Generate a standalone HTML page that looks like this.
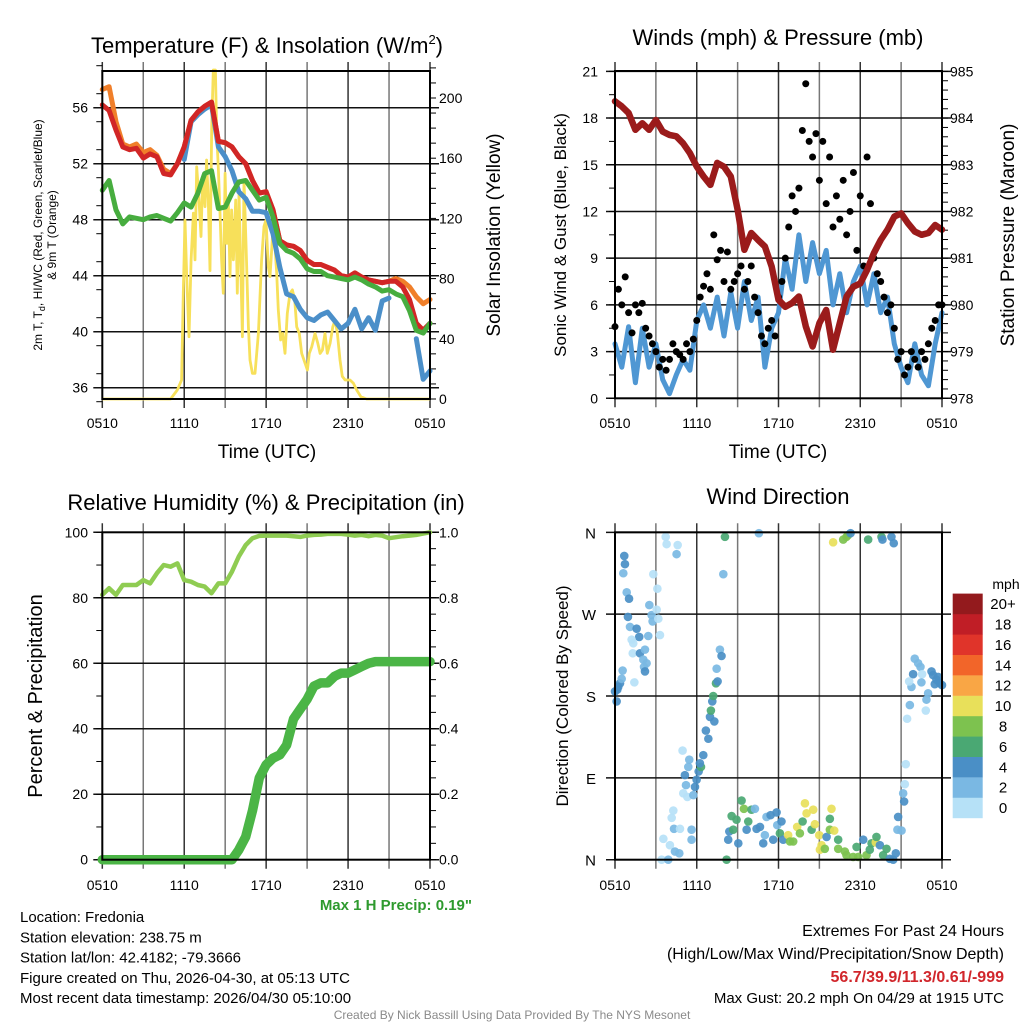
<!DOCTYPE html>
<html><head><meta charset="utf-8"><style>
html,body{margin:0;padding:0;background:#fff;}
svg{display:block;font-family:"Liberation Sans",Arial,sans-serif;}
</style></head><body>
<svg id="chart" width="1024" height="1024" viewBox="0 0 1024 1024"></svg>
<script>
// ---------- DATA ----------
const hours = [0,0.5,1,1.5,2,2.5,3,3.5,4,4.5,5,5.5,6,6.5,7,7.5,8,8.5,9,9.5,10,10.5,11,11.5,12,12.5,13,13.5,14,14.5,15,15.5,16,16.5,17,17.5,18,18.5,19,19.5,20,20.5,21,21.5,22,22.5,23,23.5,24];
const xTickLabels = ["0510","1110","1710","2310","0510"];
const tempRed = [56.2,55.8,54.4,53.2,53.0,53.1,52.4,52.7,52.5,51.3,51.2,52.0,53.2,55.1,55.7,56.1,56.4,53.6,53.5,53.2,52.5,52.0,50.8,49.9,50.0,48.7,46.5,46.2,46.1,45.8,45.1,44.8,44.8,44.6,44.4,44.0,43.9,44.2,43.9,43.7,43.6,43.5,43.6,43.6,43.2,42.3,40.6,40.1,40.6];
const tempOrange = [57.3,57.5,55.0,53.4,53.2,53.4,52.8,53.0,52.6,51.6,51.3,52.0,53.2,55.1,55.7,56.1,56.4,53.6,53.5,53.2,52.5,52.0,50.8,49.9,50.0,48.7,46.5,46.2,46.1,45.8,45.1,44.8,44.8,44.6,44.4,44.0,43.9,44.2,43.9,43.7,43.6,43.5,43.6,43.8,43.6,43.2,42.5,42.0,42.3];
const dewGreen = [50.1,50.8,48.7,47.7,48.2,48.1,48.0,48.2,48.3,48.1,47.9,48.5,49.2,48.9,49.9,51.3,51.5,48.8,48.9,49.9,50.7,50.8,50.1,49.4,49.6,48.2,46.3,45.8,45.6,45.2,44.5,44.3,44.3,44.0,43.9,43.8,43.7,43.9,43.7,43.4,43.2,42.9,43.0,42.7,42.5,41.5,40.1,39.9,40.6];
const chillBlue = [null,null,null,null,null,null,null,null,null,null,null,null,52.3,55.0,55.5,55.9,56.2,53.2,52.5,51.5,50.0,49.5,48.6,48.6,48.5,47.0,44.6,42.7,42.5,41.6,41.0,40.8,41.2,41.4,40.8,40.2,40.6,41.6,40.2,41.0,40.1,42.2,42.4,null,null,null,39.5,36.6,37.2];
const tempTicks = [36,40,44,48,52,56];
const solarTicks = [0,40,80,120,160,200];
const solarHours = [0,5.0,5.49,5.81,5.93,6.06,6.18,6.35,6.50,6.67,6.79,6.91,7.08,7.23,7.35,7.52,7.64,7.76,7.89,8.01,8.13,8.28,8.38,8.50,8.62,8.74,8.86,8.99,9.11,9.23,9.35,9.47,9.60,9.77,9.89,10.01,10.13,10.26,10.38,10.53,10.70,10.82,10.99,11.18,11.43,11.67,11.84,11.99,12.16,12.28,12.48,12.65,12.77,12.89,13.06,13.21,13.38,13.55,13.75,13.92,14.09,14.24,14.43,14.60,14.85,15.02,15.16,15.34,15.58,15.78,15.95,16.12,16.31,16.48,16.68,16.88,17.05,17.22,17.41,17.58,17.78,18.14,18.39,18.63,18.93,19.36,24];
const solarValues = [0,0,6,12.6,70.7,119,81.5,41.4,92.5,123.5,92.5,154.3,132.2,108,147.8,127.8,158.8,132.2,85.3,181,218.6,218.6,176.5,152.2,123.5,92.5,70.3,150,103.4,132.2,81.3,125.6,92.5,132.2,70.3,136.6,92.5,41.4,145.5,101.2,48,25.9,17,17,43.6,92.5,114.7,119,88,81.3,110,101.2,83.5,59.2,39.2,43.6,30.3,56.9,70.3,72.5,65.9,48,43.6,30.3,23.7,19.3,30.3,34.8,43.6,37,30.3,32.5,43.6,30.3,37,48,52.4,43.6,26,15,12.6,12.6,10.4,6,1.5,0,0];

const windSpeed = [3.5,2.0,4.6,1.0,4.5,2.0,3.5,1.2,0.3,1.5,2.5,1.8,5.0,6.0,4.5,6.5,4.0,6.8,4.5,7.5,5.0,6.5,2.0,4.5,5.5,9.0,7.0,10.5,7.5,10.0,8.0,9.5,6.0,8.0,5.5,7.5,8.5,6.0,8.0,5.5,6.5,3.5,2.0,1.0,3.5,1.5,0.8,3.5,5.5];
const pressure = [984.36,984.25,984.11,983.75,983.89,983.75,983.96,983.71,983.64,983.61,983.46,983.25,982.96,982.75,982.57,983.04,982.96,982.75,982.04,981.18,981.54,981.39,981.25,980.82,980.11,979.96,980.04,980.18,979.54,979.11,979.61,979.89,979.04,979.61,980.18,980.39,980.46,980.75,981.11,981.39,981.61,981.89,981.96,981.75,981.57,981.5,981.54,981.71,981.61];
const gustHours = [0,0.25,0.5,0.75,1,1.25,1.5,1.75,2,2.25,2.5,2.75,3,3.25,3.5,3.75,4,4.25,4.5,4.75,5,5.25,5.5,5.75,6,6.25,6.5,6.75,7,7.25,7.5,7.75,8,8.25,8.5,8.75,9,9.25,9.5,9.75,10,10.25,10.5,10.75,11,11.25,11.5,11.75,12,12.25,12.5,12.75,13,13.25,13.5,13.75,14,14.25,14.5,14.75,15,15.25,15.5,15.75,16,16.25,16.5,16.75,17,17.25,17.5,17.75,18,18.25,18.5,18.75,19,19.25,19.5,19.75,20,20.25,20.5,20.75,21,21.25,21.5,21.75,22,22.25,22.5,22.75,23,23.25,23.5,23.75,24];
const gustValues = [4.6,7.0,6.0,7.8,5.5,4.2,6.0,5.5,6.1,4.5,4.0,3.5,3.0,2.0,2.5,1.8,2.5,3.5,3.0,2.8,2.5,3.5,3.0,3.8,5.0,6.5,7.2,8.0,7.0,10.5,8.9,9.5,7.5,9.4,7.0,7.5,8.0,8.5,7.0,7.5,8.5,6.5,5.5,4.0,3.5,4.5,5.0,4.0,6.5,7.5,9.0,11.0,13.0,12.0,13.5,17.2,20.2,16.5,15.5,17.0,14.0,16.5,12.5,15.5,11.0,13.0,11.5,14.0,10.5,12.0,14.5,9.5,13.0,8.5,15.5,12.5,9.0,8.0,7.5,6.5,5.5,6.0,4.5,2.5,3.0,1.5,2.0,3.0,2.5,2.0,3.0,2.5,3.5,4.5,5.0,6.0,6.0];
const windTicks = [0,3,6,9,12,15,18,21];
const presTicks = [978,979,980,981,982,983,984,985];

const rhValues = [80.9,82.9,80.9,83.9,83.9,83.9,85.4,84.4,87.5,90.0,89.5,90.5,85.4,84.9,83.9,83.4,81.4,84.4,84.4,88.0,92.6,96.1,98.2,98.9,99.0,99.0,99.0,99.0,98.8,98.6,99.0,99.2,99.3,99.5,99.5,99.5,99.3,99.0,99.2,98.8,99.2,99.0,98.2,98.5,98.8,99.0,99.2,99.6,100];
const precipValues = [0,0,0,0,0,0,0,0,0,0,0,0,0,0,0,0,0,0,0,0,0.03,0.07,0.15,0.25,0.29,0.31,0.32,0.35,0.43,0.46,0.49,0.53,0.54,0.54,0.56,0.57,0.57,0.58,0.59,0.60,0.605,0.605,0.605,0.605,0.605,0.605,0.605,0.605,0.605];
const rhTicks = [0,20,40,60,80,100];
const precipTicks = ["0.0","0.2","0.4","0.6","0.8","1.0"];

const dirHours = [0.0,0.12,0.24,0.37,0.49,0.56,0.17,0.68,0.73,0.61,0.86,1.03,0.95,1.10,1.59,1.78,1.22,1.34,2.44,1.30,1.83,2.20,2.08,2.32,2.13,2.20,1.42,2.52,2.69,2.76,3.06,3.18,3.30,2.81,3.11,3.72,3.79,4.60,4.52,4.96,5.45,5.38,5.13,5.21,5.01,5.31,5.75,5.87,5.99,6.14,6.31,6.48,6.23,6.67,6.85,6.97,7.29,7.04,7.14,7.21,7.41,7.53,7.46,7.70,7.82,7.95,8.07,4.28,4.16,4.33,4.77,5.62,5.62,3.55,3.42,3.91,4.03,4.40,4.72,8.19,8.56,8.39,8.31,9.05,8.68,8.92,9.29,9.46,9.66,9.78,10.02,10.27,10.39,10.64,10.88,11.0,11.12,11.42,11.61,11.86,11.91,12.22,12.10,12.35,12.71,12.84,13.08,13.37,13.57,13.77,13.94,14.06,14.43,14.55,14.67,14.99,15.16,15.04,15.40,15.53,15.77,15.89,15.77,16.09,16.38,16.38,16.87,16.99,17.48,17.73,17.85,18.22,18.46,18.70,18.83,19.14,19.19,19.44,19.68,19.93,20.17,20.42,20.61,10.56,16.01,16.75,16.99,17.11,17.29,18.58,19.56,19.63,20.29,20.46,21.34,21.27,21.15,21.22,20.78,20.73,21.03,21.44,21.64,21.76,21.88,22.0,22.25,22.42,22.54,22.49,21.59,22.98,22.86,22.81,23.23,23.35,23.47,23.59,23.72,23.84,24.0];
const dirDegrees = [185,174,190,194,199,208,187,334,325,315,294,287,267,256,254,245,242,238,246,227,227,231,220,216,212,207,195,280,269,262,275,265,247,314,298,355,347,346,336,120,110,102,93,82,73,69,71,80,88,97,102,115,106,142,133,157,152,164,174,180,194,196,210,231,224,314,355,54,46,34,34,33,22,23,0,0,16,9,7,0,48,31,22,18,33,44,65,56,33,42,55,56,34,36,18,27,47,49,22,52,38,42,29,22,27,20,20,36,29,42,62,51,33,55,39,27,16,11,12,25,33,56,45,32,22,12,9,5,3,14,3,22,5,11,18,19,25,16,5,12,1,0,7,359,349,352,355,357,359,352,355,352,355,348,105,83,73,64,47,33,32,155,170,190,204,221,216,212,204,195,196,183,176,164,207,203,193,198,201,194,192];
const dirSpeeds = [5,5,5,5,3,3,5,5,5,3,3,5,5,3,5,5,1,1,3,1,5,3,3,3,3,5,1,3,3,3,1,1,1,1,1,1,1,1,3,1,3,3,5,3,1,1,3,5,5,5,7,5,5,5,5,5,5,7,5,7,7,5,3,3,5,3,7,1,1,3,1,3,3,1,1,3,1,3,3,7,7,5,5,5,7,7,7,9,5,7,7,3,5,5,5,3,3,5,5,5,3,5,7,5,11,9,9,11,9,7,11,11,7,11,11,11,11,11,9,5,9,11,7,11,7,9,9,9,9,7,9,5,9,7,7,11,7,5,7,7,5,5,5,3,11,9,9,9,5,7,7,5,5,5,1,1,3,5,5,3,3,1,3,3,5,3,3,3,1,3,1,3,3,1,5,5,5,5,5,5,5];
const dirTickLabels = ["N","E","S","W","N"];
const legendLabels = ["0","2","4","6","8","10","12","14","16","18","20+"];
const legendColors = ["#b6e1f7","#7ab8e3","#4a8fc6","#4aa873","#7dc24f","#e8e05a","#f9a645","#f26529","#e0342a","#c01e26","#931a1d"];

// ---------- HELPERS ----------
const svg = document.getElementById('chart');
const NS = 'http://www.w3.org/2000/svg';
function mk(tag, attrs, parent){ const e=document.createElementNS(NS,tag); for(const k in attrs) e.setAttribute(k,attrs[k]); (parent||svg).appendChild(e); return e; }
function txt(s, x, y, size, anchor, parent, extra){ const t=mk('text',Object.assign({x:x,y:y,'font-size':size,'text-anchor':anchor||'middle',fill:'#000'},extra||{}),parent); t.textContent=s; return t; }

function panel(name, x0, x1, y0, y1){
  const g = mk('g',{});
  
  
  const xs = h => x0 + (x1-x0)*h/24;
  for(let i=0;i<=8;i++){
    const x = xs(i*3);
    const l = mk('line',{x1:x,x2:x,y1:y0-9,y2:y1+9,stroke:(i%2? '#777':'#333'),'stroke-width':1.5},g);
    
    
  }
  return {g, xs};
}
function hgrid(g, x0, x1, y){ const l=mk('line',{x1:x0-9,x2:x1+9,y1:y,y2:y,stroke:'#111','stroke-width':1.5},g);   }
function frame(g,x0,x1,y0,y1){ const r=mk('rect',{x:x0,y:y0,width:x1-x0,height:y1-y0,fill:'none',stroke:'#000','stroke-width':2},g);   }
function path(pts){ let d='',pen=false; pts.forEach(p=>{ if(p[1]==null||isNaN(p[1])){pen=false;return;} d+=(pen?'L':'M')+p[0].toFixed(1)+' '+p[1].toFixed(1)+' '; pen=true;}); return d; }
function xLabels(g, xs, y){ xTickLabels.forEach((s,i)=>{ const t=txt(s, xs(i*6), y, 14, 'middle', g);   }); }
function minorTicks(g, x, yA, yB, n, dir){ for(let i=0;i<=n;i++){ const y=yA+(yB-yA)*i/n; const l=mk('line',{x1:x,x2:x+dir*6,y1:y,y2:y,stroke:'#000','stroke-width':1},g);   } }

// ---------- PANEL 1 ----------
(function(){
  const x0=102.3,x1=430,y0=71,y1=399;
  const P = panel('temperature-panel',x0,x1,y0,y1), g=P.g, xs=P.xs;
  const yT = t => 387.7 - (t-36)*14;
  const yS = s => 399 - s*1.505;
  tempTicks.forEach(t=>{ hgrid(g,x0,x1,yT(t)); const l=txt(String(t),88,yT(t)+5,14,'end',g);   });
  solarTicks.forEach(s=>{ const l=txt(String(s),439,yS(s)+5,14,'start',g);   });
  minorTicks(g,x0,yT(59),yT(35),12,-1);
  minorTicks(g,x1,yS(0),yS(220),22,1);
  const yl = mk('path',{d:path(solarHours.map((h,i)=>[xs(h),yS(solarValues[i])])),fill:'none',stroke:'#f7e05a','stroke-width':2.8,'stroke-linejoin':'round'},g);
   
  const series=[[chillBlue,'#4b8fc9','blue-wind-chill-line'],[tempOrange,'#f07f2a','orange-9m-temp-line'],[tempRed,'#d12626','red-2m-temp-line'],[dewGreen,'#47ad3f','green-dewpoint-line']];
  series.forEach(s=>{ const p=mk('path',{d:path(hours.map((h,i)=>[xs(h), s[0][i]==null?null:yT(s[0][i])])),fill:'none',stroke:s[1],'stroke-width':5,'stroke-linejoin':'round','stroke-linecap':'round'},g);   });
  frame(g,x0,x1,y0,y1);
  xLabels(g,xs,428);
  let t=mk('text',{x:267,y:53,'font-size':22,'text-anchor':'middle'},g); t.innerHTML='Temperature (F) &amp; Insolation (W/m<tspan font-size="13" dy="-9">2</tspan><tspan dy="9">)</tspan>';  
  t=txt('Time (UTC)',267,458,19,'middle',g);  
  t=mk('text',{'font-size':12,'text-anchor':'middle',transform:'translate(42,235) rotate(-90)'},g); t.innerHTML='2m T, T<tspan font-size="9" dy="3">d</tspan><tspan dy="-3">, HI/WC (Red, Green, Scarlet/Blue)</tspan>';  
  t=mk('text',{'font-size':12,'text-anchor':'middle',transform:'translate(56,235) rotate(-90)'},g); t.textContent='& 9m T (Orange)';  
  t=mk('text',{'font-size':19,'text-anchor':'middle',transform:'translate(500,235) rotate(-90)'},g); t.textContent='Solar Insolation (Yellow)';  
})();

// ---------- PANEL 2 ----------
(function(){
  const x0=615,x1=942,y0=71,y1=398.3;
  const P = panel('winds-panel',x0,x1,y0,y1), g=P.g, xs=P.xs;
  const yW = v => 398.3 - v*15.57;
  const yP = p => 398.3 - (p-978)*46.7;
  windTicks.forEach(v=>{ hgrid(g,x0,x1,yW(v)); const l=txt(String(v),598,yW(v)+5,14,'end',g);   });
  presTicks.forEach(p=>{ const l=txt(String(p),950,yP(p)+5,14,'start',g);   });
  minorTicks(g,x0,yW(0),yW(21),14,-1);
  minorTicks(g,x1,yP(978),yP(985),35,1);
  let p=mk('path',{d:path(hours.map((h,i)=>[xs(h),yW(windSpeed[i])])),fill:'none',stroke:'#4f97d3','stroke-width':5,'stroke-linejoin':'round','stroke-linecap':'round'},g);
   
  gustHours.forEach((h,i)=>{ const c=mk('circle',{cx:xs(h),cy:yW(gustValues[i]),r:3.5,fill:'#000'},g);
    
     });
  p=mk('path',{d:path(hours.map((h,i)=>[xs(h),yP(pressure[i])])),fill:'none',stroke:'#9b1b1b','stroke-width':6.5,'stroke-linejoin':'round','stroke-linecap':'round'},g);
   
  frame(g,x0,x1,y0,y1);
  xLabels(g,xs,428);
  let t=txt('Winds (mph) & Pressure (mb)',778,45,22,'middle',g);  
  t=txt('Time (UTC)',778,458,19,'middle',g);  
  t=mk('text',{'font-size':17,'text-anchor':'middle',transform:'translate(566,235) rotate(-90)'},g); t.textContent='Sonic Wind & Gust (Blue, Black)';  
  t=mk('text',{'font-size':19,'text-anchor':'middle',transform:'translate(1014,235) rotate(-90)'},g); t.textContent='Station Pressure (Maroon)';  
})();

// ---------- PANEL 3 ----------
(function(){
  const x0=102.3,x1=430,y0=532.3,y1=859.7;
  const P = panel('humidity-panel',x0,x1,y0,y1), g=P.g, xs=P.xs;
  const yR = v => 859.7 - v*3.274;
  const yPr = v => 859.7 - v*327.4;
  rhTicks.forEach(v=>{ hgrid(g,x0,x1,yR(v)); const l=txt(String(v),88,yR(v)+5,14,'end',g);   });
  precipTicks.forEach(s=>{ const l=txt(s,439,yPr(parseFloat(s))+5,14,'start',g);   });
  minorTicks(g,x0,y0,y1,10,-1);
  minorTicks(g,x1,y0,y1,20,1);
  let p=mk('path',{d:path(hours.map((h,i)=>[xs(h),yR(rhValues[i])])),fill:'none',stroke:'#8fcc52','stroke-width':4.5,'stroke-linejoin':'round','stroke-linecap':'round'},g);
   
  p=mk('path',{d:path(hours.map((h,i)=>[xs(h),yPr(precipValues[i])])),fill:'none',stroke:'#4bb546','stroke-width':9.5,'stroke-linejoin':'round','stroke-linecap':'round'},g);
   
  frame(g,x0,x1,y0,y1);
  xLabels(g,xs,890);
  let t=txt('Relative Humidity (%) & Precipitation (in)',266,510,22,'middle',g);  
  t=mk('text',{'font-size':20,'text-anchor':'middle',transform:'translate(42,696) rotate(-90)'},g); t.textContent='Percent & Precipitation';  
  t=txt('Max 1 H Precip: 0.19"',472,910,15,'end',g,{fill:'#2e9a2e','font-weight':'bold'});  
})();

// ---------- PANEL 4 ----------
(function(){
  const x0=615,x1=942,y0=532.3,y1=859.7;
  const P = panel('wind-direction-panel',x0,x1,y0,y1), g=P.g, xs=P.xs;
  const yD = d => 859.7 - d*0.9094;
  dirTickLabels.forEach((s,i)=>{ hgrid(g,x0,x1,yD(i*90)); const l=txt(s,596,yD(i*90)+6,15,'end',g);   });
  dirHours.forEach((h,i)=>{ const bin=Math.min(10,Math.floor(dirSpeeds[i]/2));
    const c=mk('circle',{cx:xs(h),cy:yD(dirDegrees[i]),r:4.3,fill:legendColors[bin],'fill-opacity':0.92},g);
    
     });
  frame(g,x0,x1,y0,y1);
  xLabels(g,xs,890);
  let t=txt('Wind Direction',778,504,22,'middle',g);  
  t=mk('text',{'font-size':17,'text-anchor':'middle',transform:'translate(568,696) rotate(-90)'},g); t.textContent='Direction (Colored By Speed)';  
  const lg = mk('g',{},g);  
  t=txt('mph',1006,589,14,'middle',lg);  
  legendLabels.forEach((s,i)=>{ const yy=818-(i+1)*20.4;
    const r=mk('rect',{x:952.7,y:yy,width:30,height:20.6,fill:legendColors[i]},lg);  
    const l=txt(s,1003,yy+15.5,15,'middle',lg);   });
})();

// ---------- FOOTER TEXT ----------
(function(){
  const g=mk('g',{});  
  ["Location: Fredonia","Station elevation: 238.75 m","Station lat/lon: 42.4182; -79.3666","Figure created on Thu, 2026-04-30, at 05:13 UTC","Most recent data timestamp: 2026/04/30 05:10:00"].forEach((s,i)=>{ const t=txt(s,20,922+i*20.3,15,'start',g);   });
  const e=mk('g',{});  
  let t=txt('Extremes For Past 24 Hours',1004,936,16,'end',e);  
  t=txt('(High/Low/Max Wind/Precipitation/Snow Depth)',1004,959,16,'end',e);  
  t=txt('56.7/39.9/11.3/0.61/-999',1004,982,16,'end',e,{fill:'#d1262b','font-weight':'bold'});  
  t=txt('Max Gust: 20.2 mph On 04/29 at 1915 UTC',1004,1003,15,'end',e);  
  t=txt('Created By Nick Bassill Using Data Provided By The NYS Mesonet',512,1019,12,'middle',svg,{fill:'#8a8a8a'});  
})();
</script>
</body></html>
